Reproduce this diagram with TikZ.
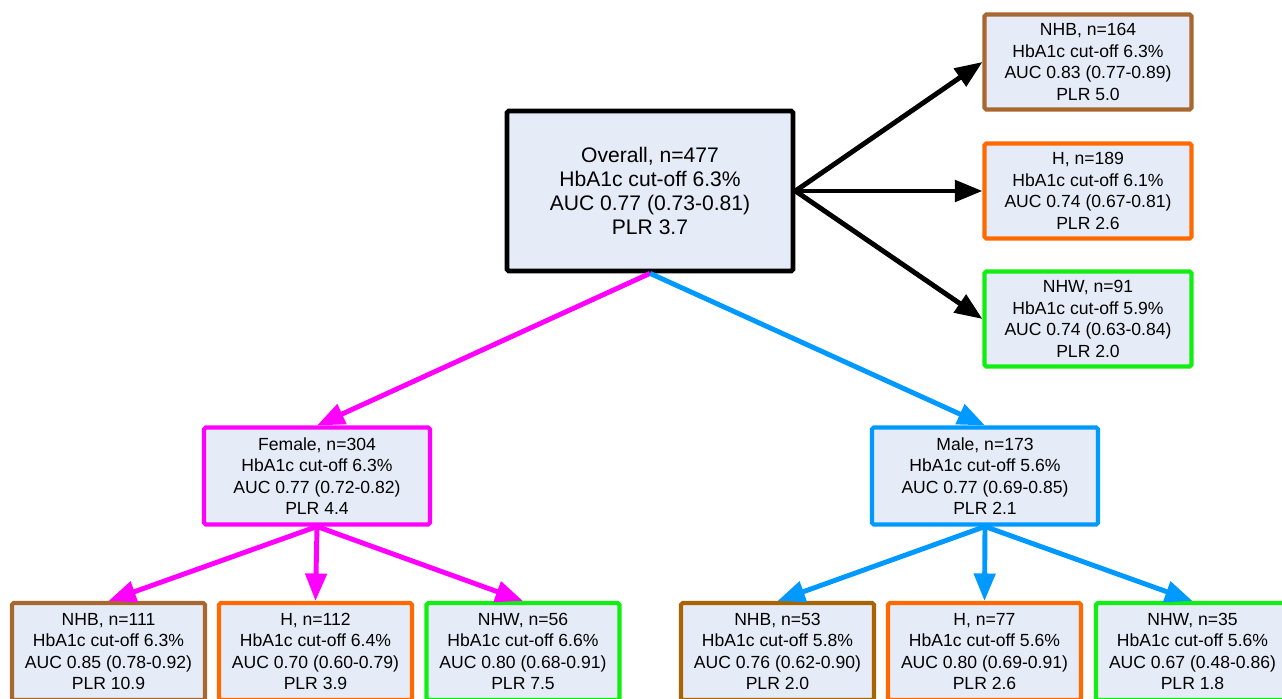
\documentclass[tikz,border=0pt]{standalone}
\usepackage{fontspec}
\setmainfont{Liberation Sans}
\usetikzlibrary{arrows.meta, positioning}

\definecolor{boxfill}{HTML}{E6ECF7}
\definecolor{nhbcol}{HTML}{A8672F}
\definecolor{nhbmcol}{HTML}{A86400}
\definecolor{hcol}{HTML}{FF6A00}
\definecolor{nhwcol}{HTML}{11EE11}
\definecolor{femcol}{HTML}{FF00FF}
\definecolor{malecol}{HTML}{0099FF}

\tikzset{
  grpbox/.style={draw, fill=boxfill, line width=2.3pt, rounded corners=1pt,
    minimum width=4.14cm, minimum height=1.9cm, align=center, inner sep=0pt,
    font=\fontsize{10}{12.2}\selectfont},
  mainbox/.style={grpbox, line width=2.7pt, minimum width=5.72cm, minimum height=3.2cm,
    font=\fontsize{12}{13.6}\selectfont},
  sexbox/.style={grpbox, minimum width=4.52cm, minimum height=1.94cm},
  botbox/.style={grpbox, minimum width=3.86cm, minimum height=1.94cm},
  splitarr/.style={line width=2.8pt, -{Triangle[length=0.55cm, width=0.42cm]}}
}

\begin{document}
\begin{tikzpicture}
                % Fix the page to the size of the reference and cut what lies beyond
                \useasboundingbox (0,0) rectangle (25.64,13.98);
                \clip (0,0) rectangle (25.64,13.98);

                % Overall box
                \node[mainbox] (overall) at (13.00,10.16)
                  {Overall, n=477\\HbA1c cut-off 6.3\%\\AUC 0.77 (0.73-0.81)\\PLR 3.7};

                % Race boxes on the right
                \node[grpbox, draw=nhbcol] (rnhb) at (21.76,12.74)
                  {NHB, n=164\\HbA1c cut-off 6.3\%\\AUC 0.83 (0.77-0.89)\\PLR 5.0};
                \node[grpbox, draw=hcol] (rh) at (21.76,10.16)
                  {H, n=189\\HbA1c cut-off 6.1\%\\AUC 0.74 (0.67-0.81)\\PLR 2.6};
                \node[grpbox, draw=nhwcol] (rnhw) at (21.76,7.60)
                  {NHW, n=91\\HbA1c cut-off 5.9\%\\AUC 0.74 (0.63-0.84)\\PLR 2.0};

                % Sex boxes
                \node[sexbox, draw=femcol] (female) at (6.34,4.46)
                  {Female, n=304\\HbA1c cut-off 6.3\%\\AUC 0.77 (0.72-0.82)\\PLR 4.4};
                \node[sexbox, draw=malecol] (male) at (19.70,4.46)
                  {Male, n=173\\HbA1c cut-off 5.6\%\\AUC 0.77 (0.69-0.85)\\PLR 2.1};

                % Female by race
                \node[botbox, draw=nhbcol] (fnhb) at (2.17,0.95)
                  {NHB, n=111\\HbA1c cut-off 6.3\%\\AUC 0.85 (0.78-0.92)\\PLR 10.9};
                \node[botbox, draw=hcol] (fh) at (6.31,0.95)
                  {H, n=112\\HbA1c cut-off 6.4\%\\AUC 0.70 (0.60-0.79)\\PLR 3.9};
                \node[botbox, draw=nhwcol] (fnhw) at (10.46,0.95)
                  {NHW, n=56\\HbA1c cut-off 6.6\%\\AUC 0.80 (0.68-0.91)\\PLR 7.5};

                % Male by race
                \node[botbox, draw=nhbmcol] (mnhb) at (15.55,0.95)
                  {NHB, n=53\\HbA1c cut-off 5.8\%\\AUC 0.76 (0.62-0.90)\\PLR 2.0};
                \node[botbox, draw=hcol] (mh) at (19.69,0.95)
                  {H, n=77\\HbA1c cut-off 5.6\%\\AUC 0.80 (0.69-0.91)\\PLR 2.6};
                \node[botbox, draw=nhwcol] (mnhw) at (23.85,0.95)
                  {NHW, n=35\\HbA1c cut-off 5.6\%\\AUC 0.67 (0.48-0.86)\\PLR 1.8};

                % Arrows
                \draw[splitarr] (overall.east) -- (rnhb.west);
                \draw[splitarr] (overall.east) -- (rh.west);
                \draw[splitarr] (overall.east) -- (rnhw.west);
                \draw[splitarr, femcol] (overall.south) -- (female.north);
                \draw[splitarr, malecol] (overall.south) -- (male.north);
                \foreach \b in {fnhb, fh, fnhw}
                  \draw[splitarr, femcol] (female.south) -- (\b.north);
                \foreach \b in {mnhb, mh, mnhw}
                  \draw[splitarr, malecol] (male.south) -- (\b.north);
            \end{tikzpicture}
\end{document}
